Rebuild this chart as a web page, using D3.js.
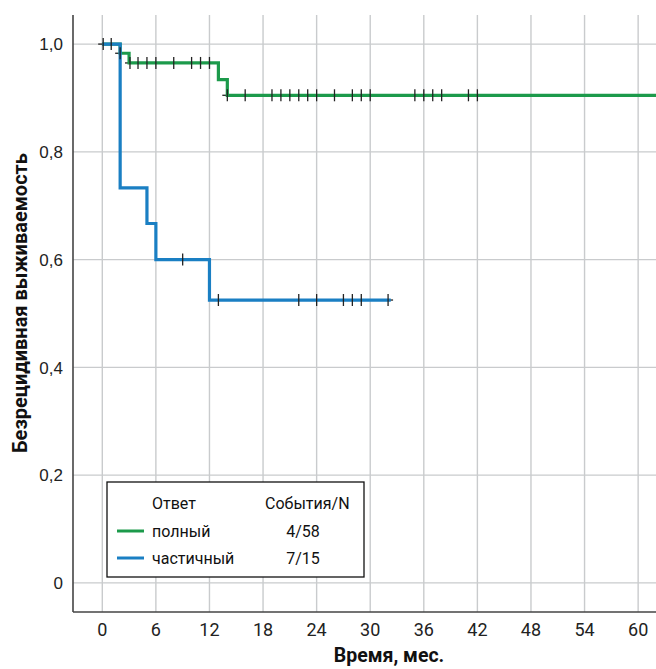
<!DOCTYPE html>
<meta charset="utf-8">
<style>
body { margin: 0; background: #fff; }
.grid line { stroke: #c9cbcd; stroke-width: 1.4; }
.ytick { font: 17px "Liberation Sans", sans-serif; fill: #222; }
.xtick { font: 18px "Liberation Sans Narrow", Roboto, sans-serif; fill: #222; }
.title { font-family: Roboto, sans-serif; font-weight: bold; fill: #111; }
.legend text { font: 16px "Liberation Sans Narrow", Roboto, sans-serif; fill: #111; }
</style>
<svg width="656" height="669"></svg>
<script src="https://d3js.org/d3.v7.min.js"></script>
<script>

// tick values
var xTicks = [0, 6, 12, 18, 24, 30, 36, 42, 48, 54, 60];
var yTicks = [0, 0.2, 0.4, 0.6, 0.8, 1.0];

// полный ответ (green)
var fullTimes = [0, 2, 3, 13, 14];
var fullSurv  = [1, 0.983, 0.965, 0.934, 0.905];
var fullEnd   = 62;
var fullCens  = [2, 3.1, 4, 5, 6, 8, 10, 11, 12, 14, 16, 19, 20, 21, 22, 23, 24, 26, 28, 29, 30, 35, 36, 37, 38, 41, 42];

// частичный ответ (blue)
var partTimes = [0, 2, 5, 6, 12];
var partSurv  = [1, 0.733, 0.667, 0.6, 0.525];
var partEnd   = 32.3;
var partCens  = [0.1, 1, 9, 13, 22, 24, 27, 28, 29, 32];

var legendNames  = ["полный", "частичный"];
var legendCounts = ["4/58", "7/15"];
var colors = ["#1c9a4b", "#1a7fc3"];

var svg = d3.select("svg"),
    margin = {top: 15, right: 0, bottom: 57, left: 73},
    width = +svg.attr("width") - margin.left - margin.right,
    height = +svg.attr("height") - margin.top - margin.bottom;

var x = d3.scaleLinear().domain([-3.28, 62]).range([0, width]);
var y = d3.scaleLinear().domain([-0.054, 1.054]).range([height, 0]);

var g = svg.append("g")
    .attr("transform", "translate(" + margin.left + "," + margin.top + ")");

// grid
var grid = g.append("g").attr("class", "grid");
grid.selectAll(".vx").data(xTicks).enter().append("line")
    .attr("x1", function(d) { return x(d); })
    .attr("x2", function(d) { return x(d); })
    .attr("y1", 0).attr("y2", height);
grid.selectAll(".hy").data(yTicks).enter().append("line")
    .attr("x1", 0).attr("x2", width)
    .attr("y1", function(d) { return y(d); })
    .attr("y2", function(d) { return y(d); });

// axes lines
g.append("line").attr("x1", 0).attr("x2", 0).attr("y1", 0).attr("y2", height)
    .style("stroke", "#444").style("stroke-width", 1.6);
g.append("line").attr("x1", 0).attr("x2", width).attr("y1", height).attr("y2", height)
    .style("stroke", "#444").style("stroke-width", 1.6);

// tick labels
g.selectAll(".ytick").data(yTicks).enter().append("text")
    .attr("class", "ytick")
    .attr("x", -10)
    .attr("y", function(d) { return y(d); })
    .attr("dy", "0.36em")
    .attr("text-anchor", "end")
    .text(function(d) { return d === 0 ? "0" : d3.format(".1f")(d).replace(".", ","); });

g.selectAll(".xtick").data(xTicks).enter().append("text")
    .attr("class", "xtick")
    .attr("x", function(d) { return x(d); })
    .attr("y", height + 24)
    .attr("text-anchor", "middle")
    .text(function(d) { return d; });

// axis titles
svg.append("text").attr("class", "title")
    .attr("transform", "translate(27,303) rotate(-90)")
    .attr("text-anchor", "middle")
    .style("font-size", "20px")
    .text("Безрецидивная выживаемость");

svg.append("text").attr("class", "title")
    .attr("x", 389).attr("y", 662)
    .attr("text-anchor", "middle")
    .style("font-size", "19.5px")
    .text("Время, мес.");

// curves
function stepData(times, surv, end) {
  var pts = times.map(function(t, i) { return [t, surv[i]]; });
  pts.push([end, surv[surv.length - 1]]);
  return pts;
}

function survAt(times, surv, t) {
  var i = d3.bisectRight(times, t) - 1;
  return surv[Math.max(i, 0)];
}

var line = d3.line()
    .x(function(d) { return x(d[0]); })
    .y(function(d) { return y(d[1]); })
    .curve(d3.curveStepAfter);

var series = [
  {times: fullTimes, surv: fullSurv, end: fullEnd, cens: fullCens, color: colors[0]},
  {times: partTimes, surv: partSurv, end: partEnd, cens: partCens, color: colors[1]}
];

// horizontal arms of censor marks go under the lines
series.forEach(function(s) {
  g.append("g").selectAll("line").data(s.cens).enter().append("line")
      .attr("x1", function(d) { return x(d) - 5; })
      .attr("x2", function(d) { return x(d) + 5; })
      .attr("y1", function(d) { return y(survAt(s.times, s.surv, d)); })
      .attr("y2", function(d) { return y(survAt(s.times, s.surv, d)); })
      .style("stroke", "#222").style("stroke-width", 1.3);
});

series.forEach(function(s) {
  g.append("path")
      .datum(stepData(s.times, s.surv, s.end))
      .attr("d", line)
      .style("fill", "none")
      .style("stroke", s.color)
      .style("stroke-width", 3.2);
});

series.forEach(function(s) {
  g.append("g").selectAll("line").data(s.cens).enter().append("line")
      .attr("x1", function(d) { return x(d); })
      .attr("x2", function(d) { return x(d); })
      .attr("y1", function(d) { return y(survAt(s.times, s.surv, d)) - 6; })
      .attr("y2", function(d) { return y(survAt(s.times, s.surv, d)) + 6; })
      .style("stroke", "#222").style("stroke-width", 1.3);
});

// legend
var legend = svg.append("g").attr("class", "legend");
legend.append("rect")
    .attr("x", 107).attr("y", 482).attr("width", 257).attr("height", 95)
    .style("fill", "#fff").style("stroke", "#111").style("stroke-width", 1.3);
legend.append("text").attr("x", 152).attr("y", 509).text("Ответ");
legend.append("text").attr("x", 265).attr("y", 509).text("События/N");
legendNames.forEach(function(name, i) {
  var ly = 531 + i * 27;
  legend.append("line")
      .attr("x1", 117).attr("x2", 144).attr("y1", ly).attr("y2", ly)
      .style("stroke", colors[i]).style("stroke-width", 3);
  legend.append("text").attr("x", 152).attr("y", ly + 5.5).text(name);
  legend.append("text").attr("x", 303).attr("y", ly + 5.5)
      .attr("text-anchor", "middle").text(legendCounts[i]);
});

</script>
